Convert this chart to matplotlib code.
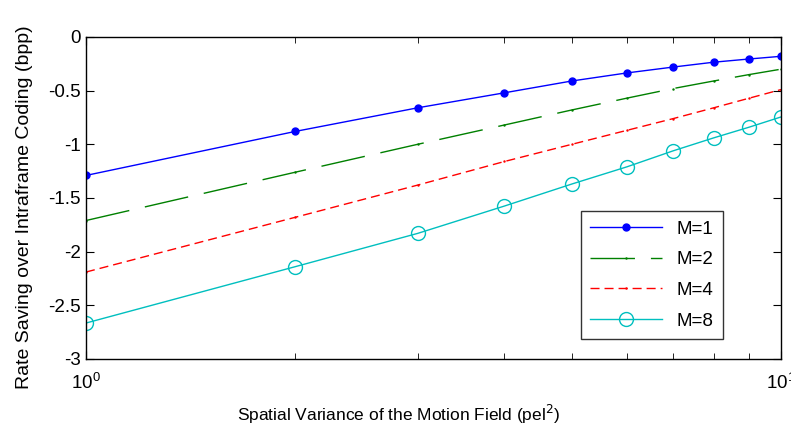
import numpy as np
import matplotlib
matplotlib.use("Agg")
import matplotlib.pyplot as plt
from matplotlib.ticker import LogLocator, NullFormatter

plt.rcParams['font.family'] = ['Liberation Sans', 'DejaVu Sans']

# spatial variance values (pel^2)
variance = [1, 2, 3, 4, 5, 6, 7, 8, 9, 10]

# rate saving (bpp)
m1 = [-1.29, -0.88, -0.66, -0.52, -0.41, -0.335, -0.28, -0.235, -0.205, -0.18]
m2 = [-1.71, -1.26, -1.00, -0.82, -0.68, -0.57, -0.48, -0.41, -0.35, -0.30]
m4 = [-2.19, -1.68, -1.38, -1.16, -1.00, -0.87, -0.76, -0.66, -0.57, -0.49]
m8 = [-2.665, -2.14, -1.83, -1.575, -1.37, -1.21, -1.06, -0.94, -0.84, -0.745]

fig = plt.figure(figsize=(7.91, 4.32), dpi=100)
ax = fig.add_axes([0.1087, 0.169, 0.8787, 0.7454])

ax.plot(variance, m1, color='#0000ff', lw=1, marker='.', ms=10, label='M=1')
ax.plot(variance, m2, color='#008000', lw=1, marker='.', ms=1.5,
        dashes=(32, 11.5), label='M=2')
ax.plot(variance, m4, color='#ff0000', lw=1, marker='.', ms=1.5,
        dashes=(6.5, 3.6), label='M=4')
ax.plot(variance, m8, color='#00bfbf', lw=1, marker='o', ms=10,
        mfc='none', mec='#00bfbf', label='M=8')

ax.set_xscale('log')
ax.set_xlim(1, 10)
ax.set_ylim(-3, 0)
ax.set_yticks([-3, -2.5, -2, -1.5, -1, -0.5, 0])
ax.set_yticklabels(['-3', '-2.5', '-2', '-1.5', '-1', '-0.5', '0'])
ax.xaxis.set_minor_locator(LogLocator(base=10, subs=np.arange(2, 10)))
ax.xaxis.set_minor_formatter(NullFormatter())
ax.tick_params(which='both', direction='in', top=True, right=True,
               labelsize=13.5)
ax.tick_params(axis='x', which='major', pad=10)
ax.tick_params(which='major', length=6)
ax.tick_params(which='minor', length=4)
for s in ax.spines.values():
    s.set_linewidth(1)

ax.set_xlabel('Spatial Variance of the Motion Field (pel$^2$)', fontsize=12.5)
ax.xaxis.set_label_coords(0.45, -0.135)
ax.set_ylabel('Rate Saving over Intraframe Coding (bpp)', fontsize=14)
ax.yaxis.set_label_coords(-0.076, 0.472)

leg = ax.legend(loc='lower left', bbox_to_anchor=(581 / 791, 1 - 339 / 432),
                bbox_transform=fig.transFigure, borderaxespad=0,
                fontsize=13.5, frameon=True,
                fancybox=False, edgecolor='black', borderpad=0.5,
                labelspacing=0.72, handlelength=3.8)
leg.get_frame().set_linewidth(1)

fig.savefig('out.png', dpi=100)
